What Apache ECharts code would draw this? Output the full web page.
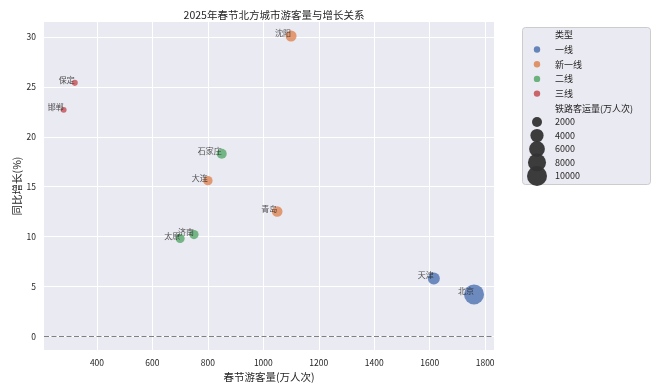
<!DOCTYPE html>
<html>
<head>
<meta charset="utf-8">
<script src="https://cdn.jsdelivr.net/npm/echarts@6/dist/echarts.min.js"></script>
<style>
html,body{margin:0;padding:0;background:#fff;}
#chart{width:672px;height:391px;}
</style>
</head>
<body>
<div id="chart"></div>
<script>
// ---- data ----
const cities   = ['北京','天津','沈阳','大连','青岛','石家庄','济南','太原','保定','邯郸'];
const cityType = ['一线','一线','新一线','新一线','新一线','二线','二线','二线','三线','三线'];
const tourists = [1760, 1615, 1100, 800, 1050, 850, 750, 700, 320, 280];      // 春节游客量(万人次)
const growth   = [4.2, 5.8, 30.1, 15.6, 12.5, 18.3, 10.2, 9.8, 25.4, 22.7];   // 同比增长(%)
const railway  = [10000, 3200, 2600, 1700, 2300, 2000, 1600, 1500, 300, 250]; // 铁路客运量(万人次)
const typeNames = ['一线','新一线','二线','三线'];
const sizeLegendValues = [2000, 4000, 6000, 8000, 10000];
const xTicks = [400, 600, 800, 1000, 1200, 1400, 1600, 1800];
const yTicks = [0, 5, 10, 15, 20, 25, 30];

// ---- styles ----
const FONT = '"Noto Sans CJK SC", "Noto Sans", sans-serif';
const colors = ['#4c72b0', '#dd8452', '#55a868', '#c44e52'];
const txt = '#262626';
function sizeFn(v) { return Math.sqrt(25 + 0.0375 * v); }

const series = typeNames.map((t, ti) => {
  const data = [];
  cities.forEach((c, i) => {
    if (cityType[i] === t) data.push({ value: [tourists[i], growth[i], railway[i]], name: c });
  });
  const s = {
    type: 'scatter',
    name: t,
    data: data,
    symbolSize: (val) => sizeFn(val[2]),
    itemStyle: { color: colors[ti], opacity: 0.8 },
    label: {
      show: true,
      position: 'inside',
      align: 'right',
      verticalAlign: 'middle',
      offset: [0, -3],
      formatter: (p) => p.name,
      color: txt,
      fontSize: 8,
      fontFamily: FONT
    },
    z: 3
  };
  if (ti === 0) {
    s.markLine = {
      silent: true,
      symbol: ['none', 'none'],
      label: { show: false },
      lineStyle: { type: [5, 2.5], color: '#808080', width: 1 },
      data: [{ yAxis: 0 }]
    };
  }
  return s;
});

// ---- legend (drawn as graphics) ----
const LX = 537, TX = 555;
const graphics = [
  { type: 'rect', shape: { x: 522.5, y: 27.5, width: 128, height: 157, r: 3 },
    style: { fill: '#eaeaf2', stroke: '#cccccc', lineWidth: 1 }, z: 10 },
  { type: 'text', style: { text: '类型', x: TX, y: 34.5, fill: txt, font: '9px ' + FONT, textVerticalAlign: 'middle' }, z: 11 }
];
typeNames.forEach((t, i) => {
  const y = 49.5 + 14.7 * i;
  graphics.push({ type: 'circle', shape: { cx: LX, cy: y, r: 3.2 }, style: { fill: colors[i], opacity: 0.85 }, z: 11 });
  graphics.push({ type: 'text', style: { text: t, x: TX, y: y, fill: txt, font: '9px ' + FONT, textVerticalAlign: 'middle' }, z: 11 });
});
graphics.push({ type: 'text', style: { text: '铁路客运量(万人次)', x: TX, y: 108.5, fill: txt, font: '9px ' + FONT, textVerticalAlign: 'middle' }, z: 11 });
const sizeY = [122, 135.5, 149, 162.5, 176];
sizeLegendValues.forEach((v, i) => {
  graphics.push({ type: 'circle', shape: { cx: LX, cy: sizeY[i], r: sizeFn(v) / 2 }, style: { fill: '#333333', opacity: 0.95 }, z: 11 });
  graphics.push({ type: 'text', style: { text: String(v), x: TX, y: sizeY[i], fill: txt, font: '9px ' + FONT, textVerticalAlign: 'middle' }, z: 12 });
});

const chart = echarts.init(document.getElementById('chart'), null, { renderer: 'canvas' });
chart.setOption({
  backgroundColor: '#ffffff',
  animation: false,
  title: {
    text: '2025年春节北方城市游客量与增长关系',
    left: 269,
    textAlign: 'center',
    top: 5,
    textStyle: { fontSize: 10.5, fontWeight: 'normal', color: txt, fontFamily: FONT }
  },
  grid: {
    left: 44, right: 178, top: 22, bottom: 41,
    show: true, backgroundColor: '#eaeaf2', borderWidth: 0
  },
  xAxis: {
    type: 'value',
    min: 209, max: 1832,
    name: '春节游客量(万人次)',
    nameLocation: 'middle',
    nameGap: 22,
    nameMoveOverlap: false,
    nameTextStyle: { fontSize: 10.5, color: txt, fontFamily: FONT },
    axisLine: { show: false },
    axisTick: { show: false, customValues: xTicks },
    axisLabel: { customValues: xTicks, formatter: (v) => String(v), fontSize: 8.5, color: txt, fontFamily: FONT, margin: 9 },
    splitLine: { show: true, lineStyle: { color: '#ffffff', width: 1 } }
  },
  yAxis: {
    type: 'value',
    min: -1.37, max: 31.5,
    name: '同比增长(%)',
    nameLocation: 'middle',
    nameGap: 22,
    nameMoveOverlap: false,
    nameRotate: 90,
    nameTextStyle: { fontSize: 10.5, color: txt, fontFamily: FONT },
    axisLine: { show: false },
    axisTick: { show: false, customValues: yTicks },
    axisLabel: { customValues: yTicks, formatter: (v) => String(v), fontSize: 8.5, color: txt, fontFamily: FONT, margin: 8 },
    splitLine: { show: true, lineStyle: { color: '#ffffff', width: 1 } }
  },
  legend: { show: false },
  series: series,
  graphic: graphics
});
</script>
</body>
</html>
